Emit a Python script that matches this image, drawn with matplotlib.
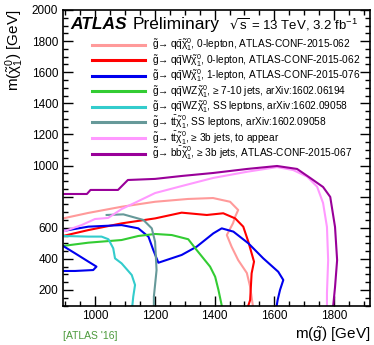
#!/usr/bin/env python3
"""ATLAS gluino summary: exclusion contours in the (m_gluino, m_neutralino) plane."""

import numpy as np
import matplotlib
matplotlib.use("Agg")
import matplotlib.pyplot as plt
from matplotlib.ticker import MultipleLocator

plt.rcParams["font.family"] = ["Liberation Sans", "DejaVu Sans"]
plt.rcParams["mathtext.default"] = "regular"

# contours: gluino mass, neutralino mass [GeV]
qq_0l_x = [893, 977, 1089, 1201, 1311, 1395, 1452, 1479, 1469, 1462, 1441, 1457, 1479, 1508, 1519, 1528]
qq_0l_y = [660, 695, 735, 767, 785, 791, 767, 714, 671, 630, 553, 478, 392, 309, 221, 100]

qqW_0l_x = [893, 978, 1089, 1201, 1290, 1374, 1429, 1469, 1496, 1513, 1532, 1524, 1519, 1513]
qqW_0l_y = [547, 585, 628, 660, 697, 682, 693, 660, 607, 510, 382, 307, 135, 100]

qqW_1l_x = [893, 978, 1089, 1145, 1179, 1195, 1212, 1290, 1340, 1396, 1424, 1463, 1513, 1563, 1613, 1630, 1619,
            1611, 1608]
qqW_1l_y = [579, 607, 617, 596, 542, 457, 375, 425, 478, 564, 596, 575, 500, 403, 317, 264, 200, 135, 100]

qqW_1l_low_x = [893, 933, 978, 1005, 994, 933, 893]
qqW_1l_low_y = [483, 436, 382, 350, 328, 322, 322]

qqWZ_jets_x = [893, 978, 1089, 1145, 1201, 1257, 1312, 1340, 1385, 1402, 1413, 1424]
qqWZ_jets_y = [483, 504, 521, 547, 560, 553, 526, 457, 350, 285, 200, 100]

qqWZ_ss_x = [893, 978, 1022, 1045, 1061, 1067, 1089, 1123, 1134, 1128, 1125]
qqWZ_ss_y = [547, 543, 543, 526, 468, 403, 371, 296, 232, 157, 100]

tt_ss_x = [1039, 1095, 1162, 1190, 1201, 1206, 1197, 1197]
tt_ss_y = [682, 686, 650, 596, 510, 328, 157, 100]

tt_3b_x = [893, 955, 1000, 1044, 1089, 1134, 1201, 1290, 1395, 1509, 1609, 1663, 1710, 1743, 1763, 1776, 1780,
           1776, 1776]
tt_3b_y = [575, 617, 656, 663, 720, 761, 823, 868, 920, 960, 990, 971, 928, 864, 759, 605, 392, 180, 100]

bb_3b_x = [893, 973, 985, 1077, 1110, 1201, 1291, 1395, 1509, 1609, 1676, 1720, 1763, 1787, 1803, 1810, 1803,
           1797]
bb_3b_y = [817, 817, 843, 843, 907, 914, 933, 952, 978, 997, 978, 920, 862, 798, 605, 392, 218, 100]

labels = [
    r"$\tilde{g}\!\rightarrow q\bar{q}\tilde{\chi}^{0}_{1}$, 0-lepton, ATLAS-CONF-2015-062",
    r"$\tilde{g}\!\rightarrow q\bar{q}W\tilde{\chi}^{0}_{1}$, 0-lepton, ATLAS-CONF-2015-062",
    r"$\tilde{g}\!\rightarrow q\bar{q}W\tilde{\chi}^{0}_{1}$, 1-lepton, ATLAS-CONF-2015-076",
    r"$\tilde{g}\!\rightarrow q\bar{q}WZ\tilde{\chi}^{0}_{1}$, ≥ 7-10 jets, arXiv:1602.06194",
    r"$\tilde{g}\!\rightarrow q\bar{q}WZ\tilde{\chi}^{0}_{1}$, SS leptons, arXiv:1602.09058",
    r"$\tilde{g}\!\rightarrow t\bar{t}\tilde{\chi}^{0}_{1}$, SS leptons, arXiv:1602.09058",
    r"$\tilde{g}\!\rightarrow t\bar{t}\tilde{\chi}^{0}_{1}$, ≥ 3b jets, to appear",
    r"$\tilde{g}\!\rightarrow b\bar{b}\tilde{\chi}^{0}_{1}$, ≥ 3b jets, ATLAS-CONF-2015-067",
]
colors = ["#ff9a9a", "#ff0000", "#0000ee", "#33cc33", "#33cccc", "#669999", "#ff99ff", "#990099"]

curves = [
    (qq_0l_x, qq_0l_y),
    (qqW_0l_x, qqW_0l_y),
    (qqW_1l_x, qqW_1l_y),
    (qqWZ_jets_x, qqWZ_jets_y),
    (qqWZ_ss_x, qqWZ_ss_y),
    (tt_ss_x, tt_ss_y),
    (tt_3b_x, tt_3b_y),
    (bb_3b_x, bb_3b_y),
]

xlim = (893, 1920)
ylim = (100, 2000)

fig = plt.figure(figsize=(3.74, 3.45), dpi=100)
ax = fig.add_axes([63 / 374, 1 - 305.5 / 345, 307 / 374, 295.5 / 345])

for (x, y), c, lab in zip(curves, colors, labels):
    ax.plot(x, y, color=c, lw=1.5, label=lab)
ax.plot(qqW_1l_low_x, qqW_1l_low_y, color=colors[2], lw=1.5)

ax.set_xlim(xlim)
ax.set_ylim(ylim)
ax.xaxis.set_major_locator(MultipleLocator(200))
ax.xaxis.set_minor_locator(MultipleLocator(50))
yt = np.arange(200, 2001, 200)
ax.set_yticks(yt)
ax.set_yticklabels(["" if v == 800 else str(v) for v in yt])
ax.yaxis.set_minor_locator(MultipleLocator(50))
ax.tick_params(which="both", direction="in", top=True, right=True, labelsize=8.5, width=1.0)
ax.tick_params(which="major", length=7)
ax.tick_params(which="minor", length=3.5)
for s in ax.spines.values():
    s.set_linewidth(1.2)

ax.set_xlabel(r"m($\tilde{g}$) [GeV]", fontsize=11, loc="right", labelpad=2)
ax.set_ylabel(r"m($\tilde{\chi}^{0}_{1}$) [GeV]", fontsize=11, loc="top", labelpad=4)

ax.text(0.025, 0.935, "ATLAS", transform=ax.transAxes, fontsize=12.5, fontweight="bold", style="italic")
ax.text(0.228, 0.935, "Preliminary", transform=ax.transAxes, fontsize=12.5)
ax.text(0.96, 0.935, r"$\sqrt{s}$ = 13 TeV, 3.2 fb$^{-1}$", transform=ax.transAxes, fontsize=9.5, ha="right")

leg = ax.legend(loc="upper left", bbox_to_anchor=(0.095, 0.91), frameon=False, fontsize=7.3,
                handlelength=5.2, handletextpad=0.75, labelspacing=-0.13, borderpad=0, borderaxespad=0)
for h in leg.get_lines():
    h.set_linewidth(2.2)

fig.text(63 / 374, 1 - 341 / 345, "[ATLAS '16]", color="#4c9a3c", fontsize=7.5, va="bottom")

fig.savefig("out.png", dpi=100)
